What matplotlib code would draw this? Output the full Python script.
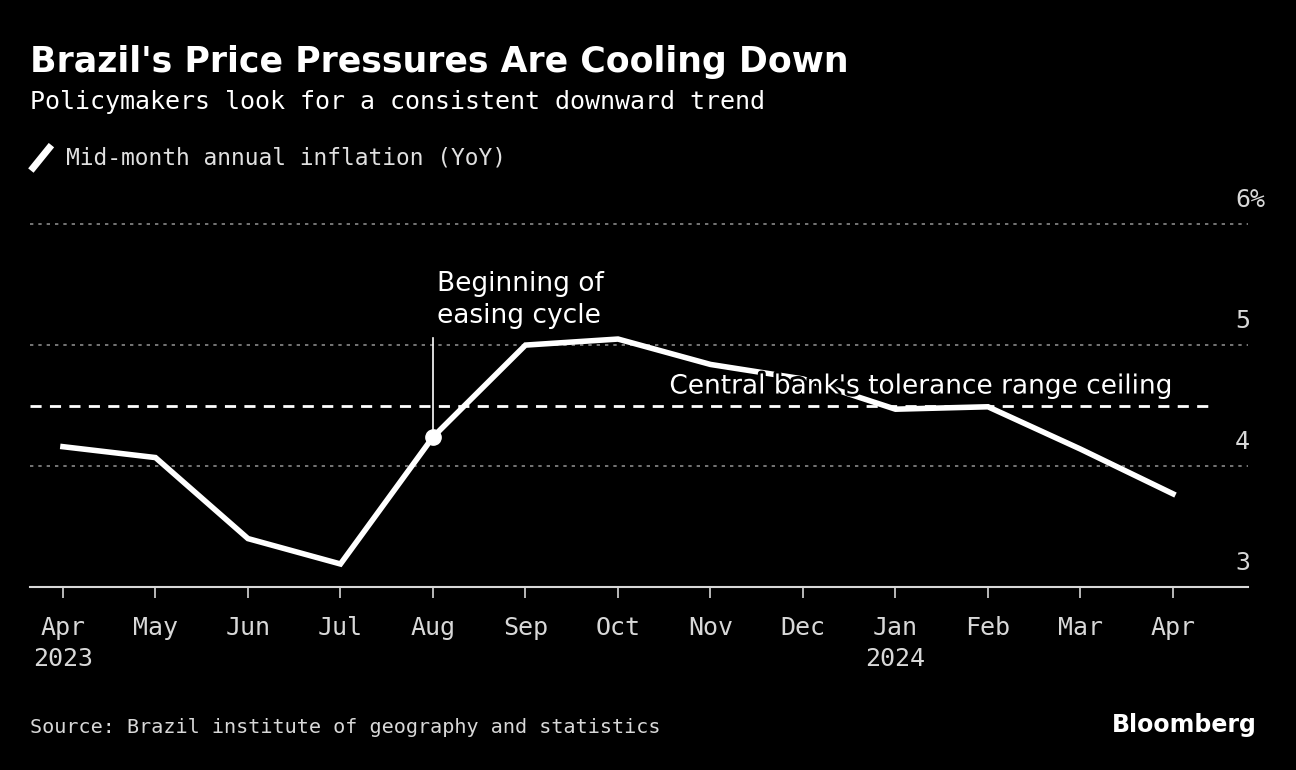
import matplotlib.pyplot as plt
import matplotlib.patheffects as pe

# mid-month annual inflation (IPCA-15, YoY %)
months = ['Apr\n2023', 'May', 'Jun', 'Jul', 'Aug', 'Sep', 'Oct', 'Nov', 'Dec',
          'Jan\n2024', 'Feb', 'Mar', 'Apr']
inflation = [4.16, 4.07, 3.40, 3.19, 4.24, 5.00, 5.05, 4.84, 4.72, 4.47, 4.49, 4.14, 3.77]
ceiling = 4.5
easing_idx = 4
y_ticks = [3, 4, 5, 6]
y_labels = ['3', '4', '5', '6%']

x = list(range(len(months)))

fig = plt.figure(figsize=(12.96, 7.7), dpi=100, facecolor='black')
ax = fig.add_axes([0.0231, 0.2377, 0.9398, 0.5026])
ax.set_facecolor('black')

ax.set_xlim(-0.357, 12.81)
ax.set_ylim(3, 6.2)

for v in y_ticks[1:]:
    ax.axhline(v, color='#8a8a8a', lw=1.2, ls=(0, (2, 3)), zorder=1)

ax.plot([-0.357, 12.4], [ceiling, ceiling], color='white', lw=2, ls=(0, (4, 3)), zorder=2)
ax.text(12.0, ceiling + 0.05, "Central bank's tolerance range ceiling", color='white',
        fontsize=19, ha='right', va='bottom', zorder=5,
        path_effects=[pe.withStroke(linewidth=4, foreground='black')])

ax.plot(x, inflation, color='white', lw=4, solid_joinstyle='miter', zorder=3)
ax.plot(x[easing_idx], inflation[easing_idx], 'o', color='white', ms=11, zorder=4)
ax.plot([x[easing_idx], x[easing_idx]], [inflation[easing_idx], 5.06], color='white', lw=1.2, zorder=3)
ax.text(x[easing_idx] + 0.04, 5.13, 'Beginning of\neasing cycle', color='white',
        fontsize=19, ha='left', va='bottom', linespacing=1.3)

ax.set_xticks(x)
ax.set_xticklabels(months, family='DejaVu Sans Mono', fontsize=18, color='#d8d8d8',
                   linespacing=1.35)
ax.tick_params(axis='x', colors='#d8d8d8', length=8, width=1.2, pad=13)
ax.set_yticks([])
for v, lab in zip(y_ticks, y_labels):
    ax.text(12.67, v + 0.1, lab, color='#d8d8d8', fontsize=18, ha='left',
            va='bottom', family='DejaVu Sans Mono')

for s in ['top', 'right', 'left']:
    ax.spines[s].set_visible(False)
ax.spines['bottom'].set_color('#d8d8d8')
ax.spines['bottom'].set_linewidth(1.5)

fig.text(0.0231, 0.92, "Brazil's Price Pressures Are Cooling Down", color='white',
         fontsize=25, fontweight='bold', va='center')
fig.text(0.0231, 0.868, 'Policymakers look for a consistent downward trend', color='white',
         fontsize=18, va='center', family='DejaVu Sans Mono')
fig.lines.append(plt.Line2D([0.0255, 0.038], [0.782, 0.808], color='white', lw=5,
                            transform=fig.transFigure, figure=fig))
fig.text(0.051, 0.795, 'Mid-month annual inflation (YoY)', color='#e0e0e0',
         fontsize=16.5, va='center', family='DejaVu Sans Mono')
fig.text(0.0231, 0.055, 'Source: Brazil institute of geography and statistics', color='#d8d8d8',
         fontsize=14.5, va='center', family='DejaVu Sans Mono')
fig.text(0.97, 0.058, 'Bloomberg', color='white', fontsize=17, fontweight='bold',
         ha='right', va='center')

fig.savefig('out.png', dpi=100, facecolor='black')
